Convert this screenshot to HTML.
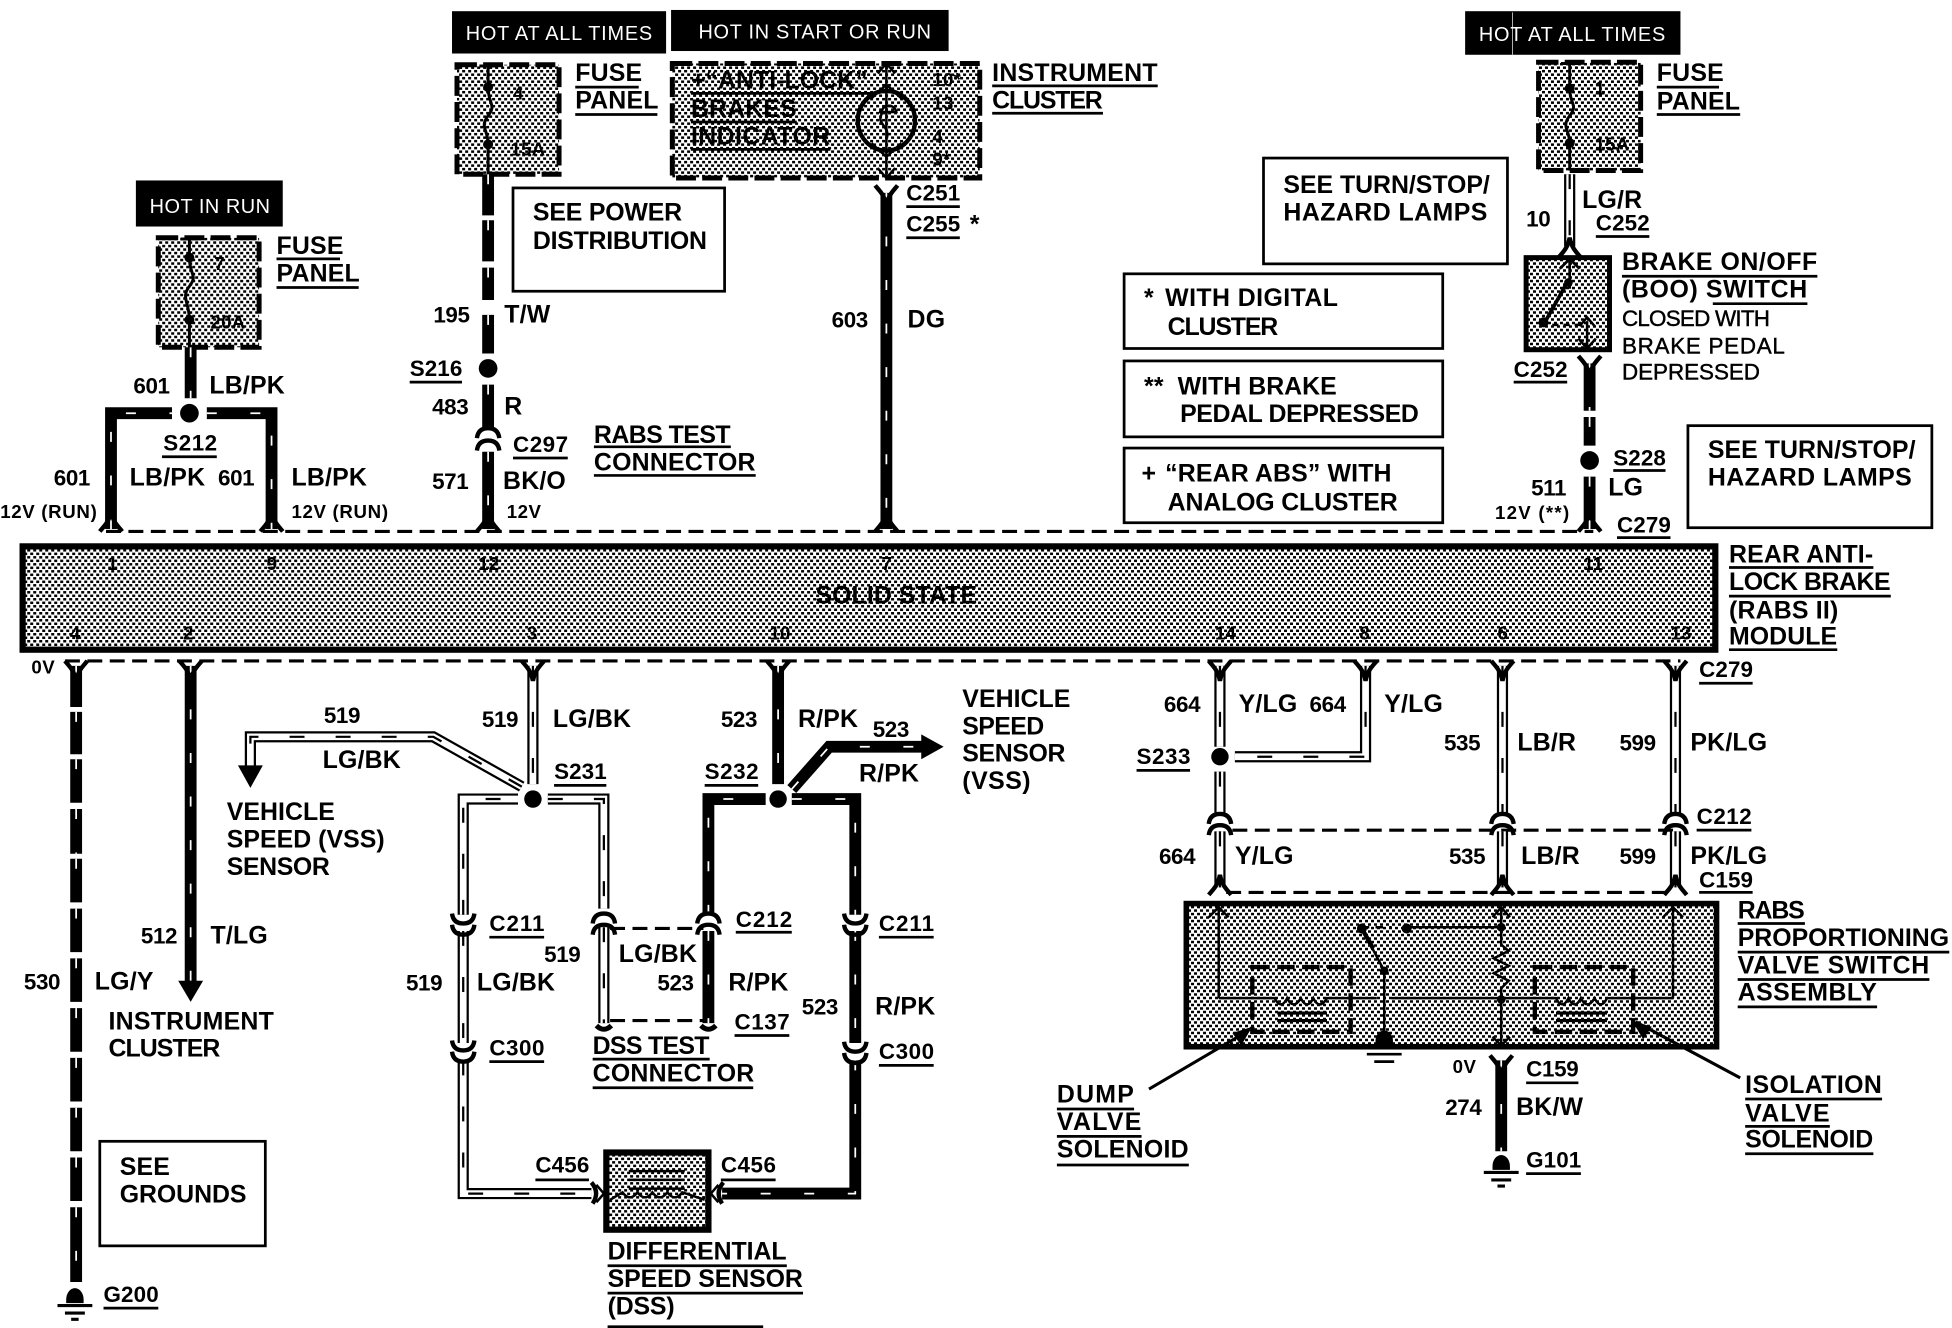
<!DOCTYPE html>
<html><head><meta charset="utf-8"><title>RABS wiring diagram</title>
<style>
html,body{margin:0;padding:0;background:#fff;width:1952px;height:1328px;overflow:hidden}
svg{display:block}
text{font-family:"Liberation Sans",sans-serif;font-weight:bold;font-size:20px;letter-spacing:.15px;fill:#000}
.n{font-size:18px;letter-spacing:-.3px}
.s{font-size:15px;letter-spacing:.4px}
.p{font-size:15px;font-weight:bold}
.r{font-size:18px;font-weight:normal;letter-spacing:.1px;stroke:#000;stroke-width:.35px}
.w{fill:#fff;font-weight:normal;font-size:16px;letter-spacing:.2px}
</style></head><body>
<svg xmlns="http://www.w3.org/2000/svg" width="1952" height="1328" viewBox="0 0 1568 1067">
<defs>
<pattern id="h" patternUnits="userSpaceOnUse" width="4.82" height="5.62">
<rect width="4.82" height="5.62" fill="#fff"/>
<rect width="2.41" height="2" fill="#000"/><rect x="2.41" y="2.81" width="2.41" height="2" fill="#000"/>
</pattern>
<path id="up" d="M-9,6C-5,1-2,-1 0,-10C2,-1 5,1 9,6" fill="none" stroke="#000" stroke-width="3.5"/>
<path id="dn" d="M-9,-6C-5,-1-2,1 0,10C2,1 5,-1 9,-6" fill="none" stroke="#000" stroke-width="3.5"/>
<path id="cap" d="M-9,4Q-8,-4 0,-4Q8,-4 9,4" fill="none" stroke="#000" stroke-width="3.5"/>
<path id="cup" d="M-9,-4Q-8,4 0,4Q8,4 9,-4" fill="none" stroke="#000" stroke-width="3.5"/>
<g id="gnd"><path d="M-7,0A7,9 0 0 1 7,0V3H-7Z" fill="#000"/><path d="M-14,5H14M-8,11H8M-3,16H3" stroke="#000" stroke-width="2.5" fill="none"/></g>
<g id="bw" fill="none">
<path d="M153,279V320"/>
<path d="M89,425V332H138M166,332H218V425"/>
<path d="M392,140V173M392,177V210M392,215V241M392,253V284M392,309V345M392,363V425"/>
<path d="M712,155V425"/>
<path d="M1277,292V330M1277,335V358M1277,383V425"/>
<path d="M61,535V568M61,572V606M61,610V645M61,650V686M61,690V725M61,730V765M61,770V805M61,810V845M61,850V885M61,890V925M61,930V965M61,970V1030"/>
<path d="M153,535V790"/>
<path d="M625,535V630"/>
<path d="M569,735V642H615M636,642H687V735M687,748V838M687,852V959H580"/>
<path d="M569,748V822"/>
<path d="M636,634L666,600H742"/>
<path d="M1206,852V925"/>
</g>
<g id="ow" fill="none">
<path d="M428,535V630"/>
<path d="M419,632L348,592H201V622"/>
<path d="M372,735V642H416M440,642H485V730M485,745V822"/>
<path d="M372,748V838M372,852V959H475"/>
<path d="M1261,140V198"/>
<path d="M980,535V600M980,620V655M980,668V713"/>
<path d="M1097,535V608H992"/>
<path d="M1207,535V655M1207,668V713"/>
<path d="M1346,535V655M1346,668V713"/>
</g>
</defs>

<rect width="1568" height="1067" fill="#fff"/>

<!-- black banners -->
<g fill="#000"><rect x="363" y="9" width="172" height="34"/><rect x="539" y="8" width="223" height="33"/><rect x="109" y="145" width="118" height="37"/><rect x="1177" y="9" width="173" height="35"/></g>
<text class="w" x="374" y="32" textLength="150">HOT AT ALL TIMES</text>
<text class="w" x="561" y="31" textLength="187">HOT IN START OR RUN</text>
<text class="w" x="120" y="171" textLength="97">HOT IN RUN</text>
<text class="w" x="1188" y="33" textLength="150">HOT AT ALL TIMES</text>

<!-- halftone components -->
<g fill="url(#h)" stroke="#000" stroke-width="4" stroke-dasharray="16 5">
<rect x="367" y="52" width="82" height="88"/>
<rect x="127" y="191" width="81" height="88"/>
<rect x="1236" y="50" width="82" height="87"/>
<rect x="540" y="51" width="247" height="92"/>
</g>
<g fill="url(#h)" stroke="#000">
<rect x="18" y="439" width="1360" height="83" stroke-width="5"/>
<rect x="1226" y="207" width="67" height="74" stroke-width="4"/>
<rect x="953" y="726" width="426" height="115" stroke-width="4.5"/>
<rect x="487" y="926" width="82" height="62" stroke-width="5"/>
</g>

<!-- plain boxes -->
<g fill="#fff" stroke="#000" stroke-width="2.2">
<rect x="412" y="151" width="170" height="83"/>
<rect x="1015" y="127" width="196" height="85"/>
<rect x="903" y="220" width="256" height="60"/>
<rect x="903" y="290" width="256" height="61"/>
<rect x="903" y="360" width="256" height="60"/>
<rect x="1356" y="342" width="196" height="82"/>
<rect x="80" y="917" width="133" height="84"/>
</g>

<!-- dashed connector lines -->
<g stroke="#000" fill="none" stroke-width="2.5" stroke-dasharray="12 6">
<path d="M85,427H1280"/><path d="M52,531H1350"/>
<path d="M990,667H1346"/><path d="M985,717H1340"/>
<path d="M490,746H565"/><path d="M490,820H565"/>
</g>

<!-- wires -->
<use href="#bw" stroke="#000" stroke-width="9.5"/>
<use href="#bw" stroke="#fff" stroke-width="1.4" stroke-dasharray="8 27"/>
<use href="#ow" stroke="#000" stroke-width="9"/>
<use href="#ow" stroke="#fff" stroke-width="5.4"/>
<use href="#ow" stroke="#000" stroke-width="1.8" stroke-dasharray="12 25"/>

<!-- arrowheads on wires -->
<path d="M143,788H163L153,805Z" fill="#000"/>
<path d="M191,615H211L201,633Z" fill="#000"/>
<path d="M740,590L758,600L740,610Z" fill="#000"/>

<!-- splices -->
<g fill="#000">
<circle cx="152" cy="332" r="7.5"/><circle cx="392" cy="296" r="7.5"/><circle cx="1277" cy="370" r="7.5"/>
<circle cx="428" cy="642" r="7"/><circle cx="625" cy="642" r="7"/><circle cx="980" cy="608" r="7"/>
</g>

<!-- connector forks -->
<use href="#up" x="89" y="421"/><use href="#up" x="218" y="421"/><use href="#up" x="392" y="421"/><use href="#up" x="712" y="421"/><use href="#up" x="1277" y="421"/>
<use href="#dn" x="61" y="537"/><use href="#dn" x="153" y="537"/><use href="#dn" x="428" y="537"/><use href="#dn" x="625" y="537"/><use href="#dn" x="980" y="537"/><use href="#dn" x="1097" y="537"/><use href="#dn" x="1207" y="537"/><use href="#dn" x="1346" y="537"/>
<use href="#dn" x="712" y="155"/><use href="#dn" x="1277" y="292"/><use href="#dn" x="1206" y="854"/>
<use href="#up" x="1261" y="201"/>
<use href="#up" x="980" y="713"/><use href="#up" x="1207" y="713"/><use href="#up" x="1346" y="713"/>
<use href="#cap" x="392" y="348"/><use href="#cap" x="392" y="358"/>
<use href="#cap" x="980" y="658"/><use href="#cap" x="980" y="667"/><use href="#cap" x="1207" y="658"/><use href="#cap" x="1207" y="667"/><use href="#cap" x="1346" y="658"/><use href="#cap" x="1346" y="667"/>
<use href="#cap" x="485" y="738"/><use href="#cap" x="485" y="747"/><use href="#cap" x="569" y="738"/><use href="#cap" x="569" y="747"/>
<use href="#cup" x="372" y="738"/><use href="#cup" x="372" y="747"/><use href="#cup" x="372" y="840"/><use href="#cup" x="372" y="849"/>
<use href="#cup" x="687" y="738"/><use href="#cup" x="687" y="747"/><use href="#cup" x="687" y="841"/><use href="#cup" x="687" y="850"/>
<path d="M475,950Q482,958 476,967M581,950Q574,958 580,967" stroke="#000" stroke-width="3.5" fill="none"/>
<path d="M479,952L485,959L479,966M577,952L571,959L577,966" stroke="#000" stroke-width="2" fill="none"/>
<path d="M479,824Q485,830 491,824M563,824Q569,830 575,824" stroke="#000" stroke-width="4" fill="none"/>

<!-- grounds -->
<use href="#gnd" x="60" y="1044"/><use href="#gnd" x="1206" y="937"/>

<!-- fuses -->
<g stroke="#000" fill="none" stroke-width="2.4">
<path d="M385,53H399M392,53V70C392,84 399,84 392,93C385,102 392,104 392,116V140"/>
<path d="M145,192H159M152,192V207C152,221 159,221 152,230C145,239 152,243 152,257V279"/>
<path d="M1254,51H1268M1261,51V71C1261,84 1268,84 1261,93C1254,102 1261,104 1261,115V137"/>
</g>
<g fill="#000"><circle cx="392" cy="70" r="4"/><circle cx="392" cy="116" r="4"/><circle cx="152" cy="207" r="4"/><circle cx="152" cy="257" r="4"/><circle cx="1261" cy="71" r="4"/><circle cx="1261" cy="115" r="4"/></g>

<!-- gauge -->
<g stroke="#000" fill="none">
<path d="M712,52V143" stroke-width="2"/><path d="M705,59L712,51L719,59M705,135L712,143L719,135" stroke-width="2"/>
<ellipse cx="712" cy="97" rx="23" ry="24" stroke-width="3.5"/>
<path d="M700,79L712,68L724,79M700,115L712,126L724,115" stroke-width="2"/>
<path d="M706,90H720A4,4 0 0 0 708,92C704,100 716,102 712,112" stroke-width="2"/>
</g>

<!-- brake switch internals -->
<g stroke="#000" fill="none">
<path d="M1261,208V232M1253,216L1261,208L1269,216" stroke-width="2.2"/>
<path d="M1241,259L1259,227" stroke-width="3"/>
<path d="M1247,261H1272" stroke-width="2" stroke-dasharray="5 4"/>
<path d="M1275,258V279M1268,272L1275,280L1282,272M1269,262L1275,255L1281,262" stroke-width="2"/>
</g>
<g fill="#000"><circle cx="1260" cy="227" r="3.5"/><circle cx="1240" cy="259" r="4"/></g>

<!-- RABS assembly internals -->
<g stroke="#000" fill="none" stroke-width="2">
<path d="M979,802V729M971,737L979,729L987,737"/>
<path d="M1207,729M1199,737L1206,729L1213,737M1199,833L1206,840L1213,833"/>
<path d="M1206,729V759L1212,764L1200,770L1212,776L1200,782L1212,788L1206,794V840"/>
<path d="M1344,802V729M1336,737L1344,729L1352,737"/>
<path d="M979,802H1024Q1029,812 1034,802Q1039,812 1045,802Q1050,812 1055,802Q1060,812 1066,802H1106M1118,802H1250Q1255,812 1260,802Q1265,812 1270,802Q1275,812 1281,802Q1286,812 1291,802H1344"/>
<path d="M1130,745H1206"/>
<path d="M1094,745H1118" stroke-dasharray="6 5"/>
<path d="M1094,746L1112,780V835" stroke-width="2"/>
<path d="M1094,746L1103,762" stroke-width="3.5"/>
</g>
<g stroke="#000" fill="none" stroke-width="3.5">
<rect x="1006" y="777" width="79" height="52" stroke-dasharray="14 6"/>
<rect x="1233" y="777" width="79" height="52" stroke-dasharray="14 6"/>
</g>
<path d="M1026,814H1066M1026,820H1066M1250,814H1291M1250,820H1291" stroke="#000" stroke-width="2.5" fill="none"/>
<g fill="#000"><circle cx="1094" cy="746" r="4"/><circle cx="1130" cy="746" r="4"/><circle cx="1206" cy="745" r="3.5"/><circle cx="1112" cy="780" r="3.5"/><circle cx="1206" cy="803" r="3.5"/><path d="M1105,841V836A7,8 0 0 1 1119,836V841Z"/></g>
<path d="M1098,847H1126M1104,853H1120" stroke="#000" stroke-width="2.2" fill="none"/>
<path d="M923,875L1003,828M1398,866L1314,821" stroke="#000" stroke-width="2.5" fill="none"/>
<path d="M1006,825L990,830L997,840Z M1311,820L1327,825L1320,835Z" fill="#000"/>

<!-- DSS internals -->
<path d="M505,941H550M505,948H550M505,955H550" stroke="#000" stroke-width="2" fill="none"/>
<path d="M490,964L500,958Q506,966 512,958Q518,966 524,958Q530,966 536,958Q542,966 548,958L566,964" stroke="#000" stroke-width="2" fill="none"/>

<!-- thin scan artefact line -->
<path d="M1215,10V44" stroke="#fff" stroke-width=".7" fill="none" opacity=".8"/>

<!-- underlines -->
<path stroke="#000" stroke-width="2.2" fill="none" d="M462,70H513M462,92H528M222,208H273M222,231H288M1331,70H1381M1331,92H1398M797,69H930M797,91H886M728,166H771M728,191H771M130,367H174M329,307H371M412,368H456M477,359H587M477,382H607M1282,190H1325M1303,222H1460M1376,244H1452M1216,307H1259M1296,378H1338M1299,432H1342M1389,456H1505M1389,479H1519M1389,522H1476M1365,549H1408M913,619H956M1363,667H1407M1365,717H1408M445,631H487M566,631H609M393,753H437M393,853H437M591,749H636M590,832H634M476,851H570M476,874H605M706,753H750M706,856H750M430,948H473M579,948H623M488,1017H632M488,1039H645M488,1066H613M83,1051H127M1396,742H1450M1396,765H1566M1396,787H1550M1396,809H1508M849,891H911M849,913H917M849,936H955M1402,883H1512M1402,905H1470M1402,927H1505M1226,870H1268M1226,943H1270M555,75H700M555,98H640M555,120H667"/>

<!-- component labels -->
<text x="462" y="65">FUSE</text><text x="462" y="87">PANEL</text>
<text x="222" y="204">FUSE</text><text x="222" y="226">PANEL</text>
<text x="1331" y="65">FUSE</text><text x="1331" y="88">PANEL</text>
<text x="797" y="65" textLength="133">INSTRUMENT</text><text x="797" y="87" textLength="89">CLUSTER</text>
<text x="555" y="71" textLength="142">+“ANTI-LOCK”</text><text x="555" y="94" textLength="85">BRAKES</text><text x="555" y="116" textLength="112">INDICATOR</text>
<text class="p" x="412" y="80">4</text><text class="p" x="410" y="125">15A</text>
<text class="p" x="172" y="217">7</text><text class="p" x="169" y="264">20A</text>
<text class="p" x="1281" y="76">1</text><text class="p" x="1281" y="121">15A</text>
<text class="p" x="749" y="69">10*</text><text class="p" x="749" y="88">13</text><text class="p" x="749" y="115">4</text><text class="p" x="749" y="133">9*</text>

<text x="428" y="177" textLength="120">SEE POWER</text><text x="428" y="200" textLength="140">DISTRIBUTION</text>
<text x="1031" y="155" textLength="166">SEE TURN/STOP/</text><text x="1031" y="177" textLength="164">HAZARD LAMPS</text>
<text x="1372" y="368" textLength="167">SEE TURN/STOP/</text><text x="1372" y="390" textLength="164">HAZARD LAMPS</text>
<text x="919" y="246">*</text><text x="936" y="246" textLength="139">WITH DIGITAL</text><text x="938" y="269" textLength="89">CLUSTER</text>
<text x="919" y="317">**</text><text x="946" y="317" textLength="128">WITH BRAKE</text><text x="948" y="339" textLength="192">PEDAL DEPRESSED</text>
<text x="917" y="387">+</text><text x="936" y="387" textLength="182">“REAR ABS” WITH</text><text x="938" y="410" textLength="185">ANALOG CLUSTER</text>
<text x="96" y="944">SEE</text><text x="96" y="966" textLength="102">GROUNDS</text>

<text x="477" y="356" textLength="110">RABS TEST</text><text x="477" y="378" textLength="130">CONNECTOR</text>
<text x="1303" y="217" textLength="157">BRAKE ON/OFF</text><text x="1303" y="239" textLength="149">(BOO) SWITCH</text>
<text class="r" x="1303" y="262" textLength="119">CLOSED WITH</text><text class="r" x="1303" y="284" textLength="131">BRAKE PEDAL</text><text class="r" x="1303" y="305" textLength="111">DEPRESSED</text>
<text x="1389" y="452" textLength="116">REAR ANTI-</text><text x="1389" y="474" textLength="130">LOCK BRAKE</text><text x="1389" y="497" textLength="88">(RABS II)</text><text x="1389" y="518" textLength="87">MODULE</text>
<text x="655" y="485" textLength="130">SOLID STATE</text>
<text x="182" y="659" textLength="87">VEHICLE</text><text x="182" y="681" textLength="127">SPEED (VSS)</text><text x="182" y="703" textLength="83">SENSOR</text>
<text x="773" y="568" textLength="87">VEHICLE</text><text x="773" y="590" textLength="66">SPEED</text><text x="773" y="612" textLength="83">SENSOR</text><text x="773" y="634" textLength="55">(VSS)</text>
<text x="87" y="827" textLength="133">INSTRUMENT</text><text x="87" y="849" textLength="90">CLUSTER</text>
<text x="476" y="847" textLength="94">DSS TEST</text><text x="476" y="869" textLength="130">CONNECTOR</text>
<text x="488" y="1012" textLength="144">DIFFERENTIAL</text><text x="488" y="1034" textLength="157">SPEED SENSOR</text><text x="488" y="1056" textLength="54">(DSS)</text>
<text x="1396" y="738" textLength="54">RABS</text><text x="1396" y="760" textLength="170">PROPORTIONING</text><text x="1396" y="782" textLength="154">VALVE SWITCH</text><text x="1396" y="804" textLength="112">ASSEMBLY</text>
<text x="849" y="886" textLength="62">DUMP</text><text x="849" y="908" textLength="68">VALVE</text><text x="849" y="930" textLength="106">SOLENOID</text>
<text x="1402" y="878" textLength="110">ISOLATION</text><text x="1402" y="901" textLength="68">VALVE</text><text x="1402" y="922" textLength="103">SOLENOID</text>

<!-- pin numbers -->
<g>
<text class="p" x="86" y="458">1</text><text class="p" x="214" y="458">9</text><text class="p" x="384" y="458">12</text><text class="p" x="708" y="458">7</text><text class="p" x="1272" y="458">11</text>
<text class="p" x="56" y="514">4</text><text class="p" x="147" y="514">2</text><text class="p" x="423" y="514">3</text><text class="p" x="618" y="514">10</text><text class="p" x="976" y="514">14</text><text class="p" x="1092" y="514">8</text><text class="p" x="1203" y="514">6</text><text class="p" x="1342" y="514">13</text>
</g>

<!-- wire & connector labels -->
<text class="n" x="107" y="316">601</text><text x="168" y="316">LB/PK</text>
<text class="n" x="131" y="362" textLength="43">S212</text>
<text x="104" y="390">LB/PK</text><text class="n" x="175" y="390">601</text><text class="n" x="43" y="390">601</text><text x="234" y="390">LB/PK</text>
<text class="s" x="0" y="416" textLength="78">12V (RUN)</text><text class="s" x="234" y="416" textLength="78">12V (RUN)</text>
<text class="n" x="348" y="259">195</text><text x="405" y="259">T/W</text>
<text class="n" x="329" y="302" textLength="42">S216</text>
<text class="n" x="347" y="333">483</text><text x="405" y="333">R</text>
<text class="n" x="412" y="363" textLength="44">C297</text>
<text class="n" x="347" y="393">571</text><text x="404" y="393">BK/O</text>
<text class="s" x="407" y="416">12V</text>
<text class="n" x="728" y="161" textLength="43">C251</text><text class="n" x="728" y="186" textLength="43">C255</text><text x="779" y="187">*</text>
<text class="n" x="668" y="263">603</text><text x="729" y="263">DG</text>
<text class="n" x="1226" y="182">10</text><text x="1271" y="167">LG/R</text>
<text class="n" x="1282" y="185" textLength="43">C252</text><text class="n" x="1216" y="303" textLength="43">C252</text>
<text class="n" x="1296" y="374" textLength="42">S228</text><text x="1292" y="398">LG</text><text class="n" x="1230" y="398">511</text>
<text class="s" x="1201" y="417" textLength="60">12V (**)</text>
<text class="n" x="1299" y="428" textLength="43">C279</text>
<text class="s" x="25" y="541">0V</text>
<text class="n" x="19" y="795">530</text><text x="76" y="795">LG/Y</text>
<text class="n" x="113" y="758">512</text><text x="169" y="758">T/LG</text>
<text class="n" x="83" y="1046" textLength="44">G200</text>
<text class="n" x="387" y="584">519</text><text x="444" y="584">LG/BK</text>
<text class="n" x="260" y="581">519</text><text x="259" y="617">LG/BK</text>
<text class="n" x="445" y="626" textLength="42">S231</text>
<text class="n" x="566" y="626" textLength="43">S232</text>
<text class="n" x="579" y="584">523</text><text x="641" y="584">R/PK</text>
<text class="n" x="701" y="592">523</text><text x="690" y="628">R/PK</text>
<text class="n" x="393" y="748" textLength="44">C211</text><text class="n" x="393" y="848" textLength="44">C300</text>
<text class="n" x="326" y="796">519</text><text x="383" y="796">LG/BK</text>
<text class="n" x="437" y="773">519</text><text x="497" y="773">LG/BK</text>
<text class="n" x="528" y="796">523</text><text x="585" y="796">R/PK</text>
<text class="n" x="591" y="745" textLength="45">C212</text><text class="n" x="590" y="827" textLength="44">C137</text>
<text class="n" x="706" y="748" textLength="44">C211</text><text class="n" x="706" y="851" textLength="44">C300</text>
<text class="n" x="644" y="815">523</text><text x="703" y="815">R/PK</text>
<text class="n" x="430" y="942" textLength="43">C456</text><text class="n" x="579" y="942" textLength="44">C456</text>
<text class="n" x="935" y="572">664</text><text x="995" y="572">Y/LG</text><text class="n" x="1052" y="572">664</text><text x="1112" y="572">Y/LG</text>
<text class="n" x="913" y="614" textLength="43">S233</text>
<text class="n" x="931" y="694">664</text><text x="992" y="694">Y/LG</text>
<text class="n" x="1160" y="603">535</text><text x="1219" y="603">LB/R</text>
<text class="n" x="1164" y="694">535</text><text x="1222" y="694">LB/R</text>
<text class="n" x="1301" y="603">599</text><text x="1358" y="603">PK/LG</text>
<text class="n" x="1301" y="694">599</text><text x="1358" y="694">PK/LG</text>
<text class="n" x="1365" y="544" textLength="43">C279</text>
<text class="n" x="1363" y="662" textLength="44">C212</text>
<text class="n" x="1365" y="713" textLength="43">C159</text>
<text class="s" x="1167" y="862">0V</text>
<text class="n" x="1226" y="865" textLength="42">C159</text>
<text class="n" x="1161" y="896">274</text><text x="1218" y="896">BK/W</text>
<text class="n" x="1226" y="938" textLength="44">G101</text>
</svg>
</body></html>
